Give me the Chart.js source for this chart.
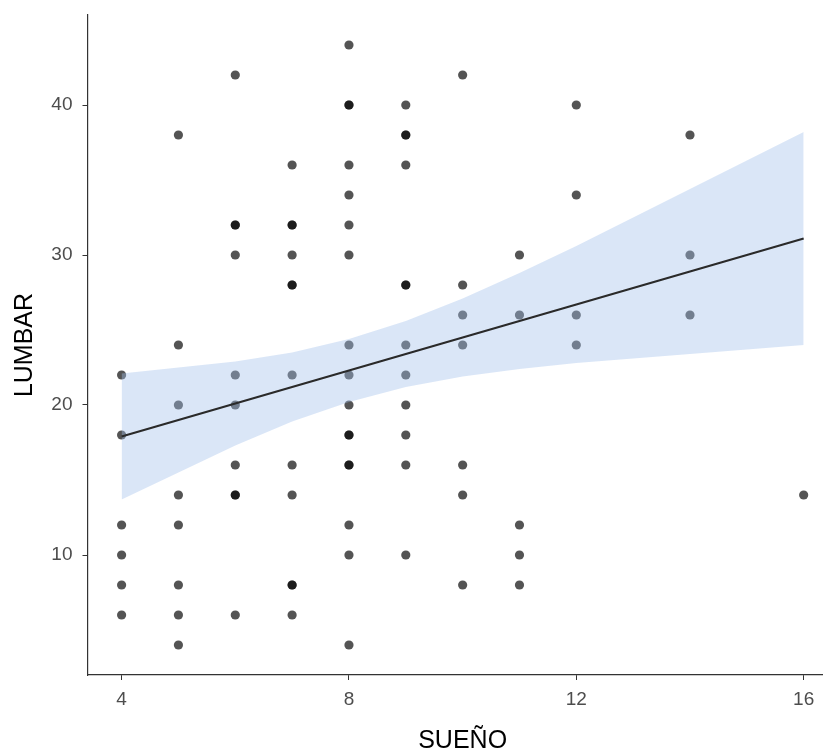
<!DOCTYPE html>
<html>
<head>
<meta charset="utf-8">
<script src="https://cdn.jsdelivr.net/npm/chart.js@4"></script>
<style>
  html, body { margin: 0; padding: 0; background: #fff; }
  canvas { display: block; }
</style>
</head>
<body>
<canvas id="scatter" width="823" height="753"></canvas>
<script>
const sueno = [
  4, 4, 4, 4, 4, 4,
  5, 5, 5, 5, 5, 5, 5, 5,
  6, 6, 6, 6, 6, 6, 6, 6, 6, 6,
  7, 7, 7, 7, 7, 7, 7, 7, 7, 7, 7, 7,
  8, 8, 8, 8, 8, 8, 8, 8, 8, 8, 8, 8, 8, 8, 8, 8, 8,
  9, 9, 9, 9, 9, 9, 9, 9, 9, 9, 9, 9,
  10, 10, 10, 10, 10, 10, 10,
  11, 11, 11, 11, 11,
  12, 12, 12, 12,
  14, 14, 14,
  16
];
const lumbar = [
  22, 18, 12, 10, 8, 6,
  38, 24, 20, 14, 12, 8, 6, 4,
  42, 32, 32, 30, 22, 20, 16, 14, 14, 6,
  36, 32, 32, 30, 28, 28, 22, 16, 14, 8, 8, 6,
  44, 40, 40, 36, 34, 32, 30, 24, 22, 20, 18, 18, 16, 16, 12, 10, 4,
  40, 38, 38, 36, 28, 28, 24, 22, 20, 18, 16, 10,
  42, 28, 26, 24, 16, 14, 8,
  30, 26, 12, 10, 8,
  40, 34, 26, 24,
  38, 30, 26,
  14
];

// fitted line and its confidence band, read at whole SUEÑO values
const fitX     = [4, 5, 6, 7, 8, 9, 10, 11, 12, 13, 14, 15, 16];
const fitY     = [17.9, 19.0, 20.1, 21.2, 22.3, 23.4, 24.5, 25.6, 26.7, 27.8, 28.9, 30.0, 31.1];
const bandHigh = [22.1, 22.5, 22.9, 23.5, 24.4, 25.6, 27.1, 28.8, 30.6, 32.5, 34.4, 36.3, 38.2];
const bandLow  = [13.7, 15.5, 17.3, 18.9, 20.2, 21.2, 21.9, 22.4, 22.8, 23.1, 23.4, 23.7, 24.0];

const xTicks = [4, 8, 12, 16];
const yTicks = [10, 20, 30, 40];

const xTitle = 'SUEÑO';
const yTitle = 'LUMBAR';

const pts = sueno.map((x, i) => ({ x: x, y: lumbar[i] }));
const pairs = ys => fitX.map((x, i) => ({ x: x, y: ys[i] }));

const FONT = "'Liberation Sans', Arial, sans-serif";

// chart.js reserves room for edge tick labels; the panel here runs flush
function noEdgePadding(s) {
  s.paddingTop = 0;
  s.paddingBottom = 0;
  s.paddingLeft = 0;
  s.paddingRight = 0;
}

// axis titles drawn by hand so SUEÑO sits at the middle of the full panel
const axisTitles = {
  id: 'axisTitles',
  afterDraw(chart) {
    const c = chart.ctx;
    const xs = chart.scales.x, ys = chart.scales.y;
    c.save();
    c.fillStyle = '#000';
    c.font = '25px ' + FONT;
    c.textAlign = 'center';
    c.textBaseline = 'middle';
    c.fillText(xTitle, xs.getPixelForValue(10), 741);
    c.translate(25, (ys.top + ys.bottom) / 2);
    c.rotate(-Math.PI / 2);
    c.fillText(yTitle, 0, 0);
    c.restore();
  }
};

new Chart(document.getElementById('scatter').getContext('2d'), {
  type: 'scatter',
  data: {
    datasets: [
      {
        data: pairs(fitY),
        showLine: true,
        borderColor: '#2a2a2a',
        borderWidth: 2.2,
        pointRadius: 0,
        fill: false,
        order: 0
      },
      {
        data: pairs(bandHigh),
        showLine: true,
        borderWidth: 0,
        borderColor: 'rgba(0,0,0,0)',
        pointRadius: 0,
        fill: '+1',
        backgroundColor: 'rgba(160, 191, 234, 0.39)',
        order: 1
      },
      {
        data: pairs(bandLow),
        showLine: true,
        borderWidth: 0,
        borderColor: 'rgba(0,0,0,0)',
        pointRadius: 0,
        fill: false,
        order: 1
      },
      {
        data: pts,
        pointRadius: 4.6,
        pointBorderWidth: 0,
        pointBackgroundColor: 'rgba(0, 0, 0, 0.67)',
        order: 2
      }
    ]
  },
  options: {
    responsive: false,
    animation: false,
    layout: { autoPadding: false, padding: { top: 15, right: 0, bottom: 0, left: 0 } },
    plugins: {
      legend: { display: false },
      tooltip: { enabled: false }
    },
    scales: {
      x: {
        type: 'linear',
        min: 3.4,
        max: 16.34,
        afterBuildTicks: s => { s.ticks = xTicks.map(v => ({ value: v })); },
        afterFit: s => { s.height = 78; noEdgePadding(s); },
        grid: { drawOnChartArea: false, drawTicks: true, tickLength: 5, color: '#333', lineWidth: 1 },
        border: { display: true, color: '#333', width: 1.2 },
        ticks: { color: '#4d4d4d', font: { family: FONT, size: 19 }, padding: 8, maxRotation: 0 }
      },
      y: {
        type: 'linear',
        min: 2,
        max: 46,
        afterBuildTicks: s => { s.ticks = yTicks.map(v => ({ value: v })); },
        afterFit: s => { s.width = 87.5; noEdgePadding(s); },
        grid: { drawOnChartArea: false, drawTicks: true, tickLength: 5, color: '#333', lineWidth: 1 },
        border: { display: true, color: '#333', width: 1.2 },
        ticks: { color: '#4d4d4d', font: { family: FONT, size: 19 }, padding: 10 }
      }
    }
  },
  plugins: [axisTitles]
});
</script>
</body>
</html>
